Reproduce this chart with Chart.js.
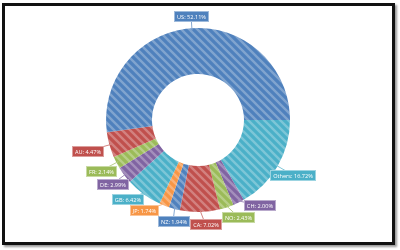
<!DOCTYPE html>
<html>
<head>
<meta charset="utf-8">
<script src="https://cdn.jsdelivr.net/npm/chart.js@4"></script>
<style>
  html, body { margin: 0; padding: 0; background: #fff; }
  body { width: 400px; height: 250px; position: relative; overflow: hidden; }
  .frame {
    position: absolute; left: 2px; top: 3px; width: 387px; height: 236px;
    border: 3px solid #111; background: #fff;
    box-shadow: 2px 2px 2px #9a9a9a;
  }
  #wrap { position: absolute; left: 0; top: 0; width: 400px; height: 250px; }
</style>
</head>
<body>
<div class="frame"></div>
<div id="wrap"><canvas id="chart" width="400" height="250"></canvas></div>
<script>
// Market share by country, listed clockwise from 3 o'clock
const countries = ['Others', 'CH', 'NO', 'CA', 'NZ', 'JP', 'GB', 'DE', 'FR', 'AU', 'US'];
const shares = [16.72, 2.00, 2.43, 7.02, 1.94, 1.74, 6.42, 2.99, 2.14, 4.47, 52.11];
const baseColors = ['#4bb0c8', '#8064a2', '#9bbb59', '#c0504d', '#4f81bd', '#f79646',
                    '#4bb0c8', '#8064a2', '#9bbb59', '#c0504d', '#4f81bd'];

function lighten(hex, amt) {
  const n = parseInt(hex.slice(1), 16);
  const r = (n >> 16) & 255, g = (n >> 8) & 255, b = n & 255;
  const f = c => Math.round(c + (255 - c) * amt);
  return 'rgb(' + f(r) + ',' + f(g) + ',' + f(b) + ')';
}

// Diagonal stripe fill ("\" direction) over the base colour
function stripes(hex) {
  const s = 8;
  const c = document.createElement('canvas');
  c.width = s; c.height = s;
  const x = c.getContext('2d');
  x.fillStyle = hex;
  x.fillRect(0, 0, s, s);
  x.strokeStyle = lighten(hex, 0.28);
  x.lineWidth = 2.4;
  x.beginPath();
  for (let k = -1; k <= 1; k++) {
    x.moveTo(k * s - 1, -1);
    x.lineTo(k * s + s + 1, s + 1);
  }
  x.stroke();
  return x.createPattern(c, 'repeat');
}

// Boxed value labels outside each slice, joined to it by a leader line
const outLabels = {
  id: 'outLabels',
  afterDatasetsDraw(chart) {
    const ctx = chart.ctx;
    const meta = chart.getDatasetMeta(0);
    const font = '5.6px "Open Sans"';
    ctx.save();
    ctx.font = font;
    const gap = 7, boxH = 10, padX = 2.5;
    const items = meta.data.map((arc, i) => {
      const p = arc.getProps(['x', 'y', 'startAngle', 'endAngle', 'outerRadius'], true);
      const mid = (p.startAngle + p.endAngle) / 2;
      const text = countries[i] + ': ' + shares[i].toFixed(2) + '%';
      const w = Math.round(ctx.measureText(text).width + padX * 2);
      return { i, cx: p.x, cy: p.y, R: p.outerRadius, mid, ang: mid, text, w, h: boxH };
    });
    const place = it => {
      const c = Math.cos(it.ang), s = Math.sin(it.ang);
      const t = Math.min((it.w / 2) / Math.max(Math.abs(c), 1e-6), (it.h / 2) / Math.max(Math.abs(s), 1e-6));
      const d = it.R + gap + t;
      it.x = it.cx + d * c;
      it.y = it.cy + d * s;
    };
    items.forEach(place);
    const overlap = (a, b) =>
      Math.abs(a.x - b.x) < (a.w + b.w) / 2 + 1 && Math.abs(a.y - b.y) < (a.h + b.h) / 2 + 1;
    const step = 0.004;
    for (let iter = 0; iter < 400; iter++) {
      let moved = false;
      for (let k = 0; k < items.length - 1; k++) {
        const a = items[k], b = items[k + 1];
        if (overlap(a, b)) {
          const va = shares[a.i], vb = shares[b.i];
          a.ang -= step * vb / (va + vb);
          b.ang += step * va / (va + vb);
          place(a); place(b);
          moved = true;
        }
      }
      if (!moved) break;
    }
    items.forEach(it => {
      const col = baseColors[it.i];
      ctx.strokeStyle = lighten(col, 0.3);
      ctx.lineWidth = 1;
      ctx.beginPath();
      ctx.moveTo(it.cx + (it.R - 2) * Math.cos(it.mid), it.cy + (it.R - 2) * Math.sin(it.mid));
      ctx.lineTo(it.x, it.y);
      ctx.stroke();
    });
    items.forEach(it => {
      const col = baseColors[it.i];
      const bx = Math.round(it.x - it.w / 2) + 0.5, by = Math.round(it.y - it.h / 2) + 0.5;
      ctx.fillStyle = col;
      ctx.fillRect(bx, by, it.w, it.h);
      ctx.strokeStyle = lighten(col, 0.45);
      ctx.lineWidth = 1;
      ctx.strokeRect(bx, by, it.w, it.h);
      ctx.fillStyle = '#fff';
      ctx.textAlign = 'center';
      ctx.textBaseline = 'middle';
      ctx.fillText(it.text, bx + it.w / 2, by + it.h / 2 + 0.5);
    });
    ctx.restore();
  }
};

const ctx = document.getElementById('chart').getContext('2d');
new Chart(ctx, {
  type: 'doughnut',
  data: {
    labels: countries,
    datasets: [{
      data: shares,
      backgroundColor: baseColors.map(stripes),
      borderWidth: 0
    }]
  },
  options: {
    responsive: false,
    animation: false,
    rotation: 90,
    cutout: '50%',
    layout: { padding: { top: 28, bottom: 38, left: 0, right: 4 } },
    plugins: { legend: { display: false }, tooltip: { enabled: false } }
  },
  plugins: [outLabels]
});
</script>
</body>
</html>
